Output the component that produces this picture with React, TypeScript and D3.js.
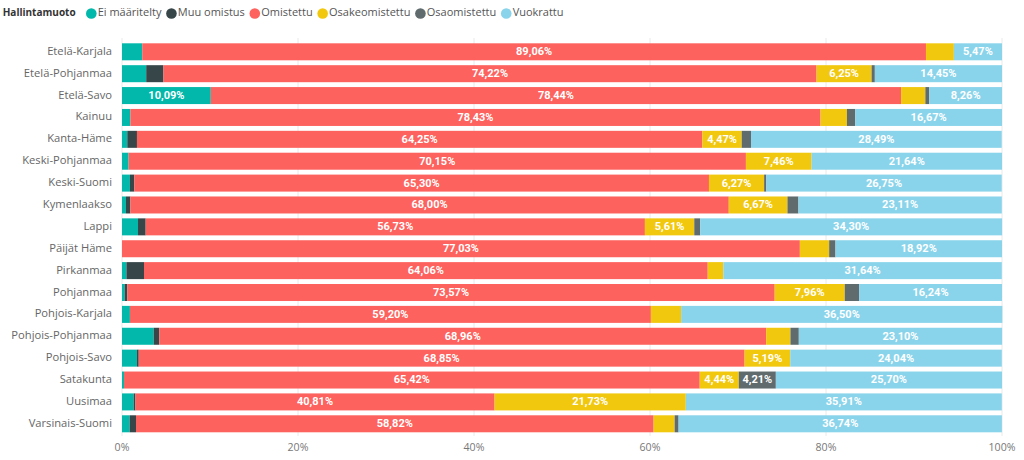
import React from "react";
import * as d3 from "d3";

const categories = [
  "Etelä-Karjala", "Etelä-Pohjanmaa", "Etelä-Savo", "Kainuu", "Kanta-Häme",
  "Keski-Pohjanmaa", "Keski-Suomi", "Kymenlaakso", "Lappi", "Päijät Häme",
  "Pirkanmaa", "Pohjanmaa", "Pohjois-Karjala", "Pohjois-Pohjanmaa",
  "Pohjois-Savo", "Satakunta", "Uusimaa", "Varsinais-Suomi",
];

const seriesNames = ["Ei määritelty", "Muu omistus", "Omistettu", "Osakeomistettu", "Osaomistettu", "Vuokrattu"];
const seriesColors = ["#01B8AA", "#374649", "#FD625E", "#F2C80F", "#5F6B6D", "#8AD4EB"];

const eiMaaritelty = [2.3, 2.75, 10.09, 0.95, 0.6, 0.75, 0.9, 0.45, 1.82, 0, 0.5, 0.3, 0.9, 3.6, 1.7, 0.23, 1.33, 0.87];
const muuOmistus = [0, 1.96, 0, 0, 1.1, 0, 0.5, 0.5, 0.87, 0, 2.0, 0.3, 0, 0.64, 0.2, 0, 0.2, 0.72];
const omistettu = [89.06, 74.22, 78.44, 78.43, 64.25, 70.15, 65.30, 68.00, 56.73, 77.03, 64.06, 73.57, 59.20, 68.96, 68.85, 65.42, 40.81, 58.82];
const osakeomistettu = [3.17, 6.25, 2.76, 3.0, 4.47, 7.46, 6.27, 6.67, 5.61, 3.33, 1.78, 7.96, 3.44, 2.76, 5.19, 4.44, 21.73, 2.39];
const osaomistettu = [0, 0.37, 0.45, 0.95, 1.06, 0, 0.25, 1.25, 0.68, 0.72, 0, 1.63, 0, 0.95, 0, 4.21, 0, 0.45];
const vuokrattu = [5.47, 14.45, 8.26, 16.67, 28.49, 21.64, 26.75, 23.11, 34.30, 18.92, 31.64, 16.24, 36.50, 23.10, 24.04, 25.70, 35.91, 36.74];

const seriesValues = [eiMaaritelty, muuOmistus, omistettu, osakeomistettu, osaomistettu, vuokrattu];
const xTicks = [0, 20, 40, 60, 80, 100];

const W = 1024;
const H = 460;
const FAMILY = "'Open Sans'";
const CAT_SIZE = 11.2;
const LEG_SIZE = 11;
const TITLE_SIZE = 10;
const AXIS_SIZE = 10.6;

let ctx: CanvasRenderingContext2D | null = null;
function measure(text: string, font: string): number {
  if (!ctx) ctx = document.createElement("canvas").getContext("2d");
  if (!ctx) return text.length * 6;
  ctx.font = font;
  return ctx.measureText(text).width;
}

const fmt = (v: number) => v.toFixed(2).replace(".", ",") + "%";

export default function App() {
  const x = d3.scaleLinear().domain([0, 100]).range([122, 1002]);
  const y = d3.scaleBand<string>().domain(categories).range([40.9, 434.7]).paddingInner(0.223).paddingOuter(0.11);

  const labelFont = "bold 11px Roboto";

  const rows = categories.map((c, i) => {
    const vals = seriesValues.map((s) => s[i]);
    const stack = d3.cumsum(vals);
    return vals.map((v, k) => ({ k, v, x0: stack[k] - v, x1: stack[k] }));
  });

  // legend layout
  let lx = 86;
  const legendItems = seriesNames.map((n, i) => {
    const cx = lx + 5.3;
    const tx = lx + 11.7;
    lx = tx + measure(n, `${LEG_SIZE}px ${FAMILY}`) + 4.7;
    return { n, i, cx, tx };
  });

  return (
    <svg width={W} height={H} style={{ position: "absolute", left: 0, top: 0, background: "#fff" }}>
      <rect width={W} height={H} fill="#fff" />
      <text x={2.7} y={13.5} dominantBaseline="middle" fontFamily={FAMILY} fontWeight="bold" fontSize={TITLE_SIZE} fill="#333">Hallintamuoto</text>
      {legendItems.map((it) => (
        <g key={it.n}>
          <circle cx={it.cx} cy={13.5} r={5.3} fill={seriesColors[it.i]} />
          <text x={it.tx} y={13.5} dominantBaseline="middle" fontFamily={FAMILY} fontSize={LEG_SIZE} fill="#555">{it.n}</text>
        </g>
      ))}
      {xTicks.map((t) => (
        <g key={t}>
          <line x1={x(t)} x2={x(t)} y1={38} y2={436} stroke="#eaeaea" strokeWidth={1} />
          <text x={x(t)} y={448} textAnchor="middle" dominantBaseline="middle" fontFamily={FAMILY} fontSize={AXIS_SIZE} fill="#777">{t + "%"}</text>
        </g>
      ))}
      {categories.map((c, i) => {
        const y0 = y(c)!;
        const bh = y.bandwidth();
        return (
          <g key={c}>
            <text x={112} y={y0 + bh / 2} textAnchor="end" dominantBaseline="middle" fontFamily={FAMILY} fontSize={CAT_SIZE} fill="#666">{c}</text>
            {rows[i].map((seg) =>
              seg.v > 0 ? (
                <rect key={seg.k} x={x(seg.x0)} y={y0} width={x(seg.x1) - x(seg.x0)} height={bh} fill={seriesColors[seg.k]} />
              ) : null
            )}
            {rows[i].map((seg) => {
              const w = x(seg.x1) - x(seg.x0);
              const label = fmt(seg.v);
              if (seg.v <= 0 || w < measure(label, labelFont) + 3) return null;
              return (
                <text key={"l" + seg.k} x={(x(seg.x0) + x(seg.x1)) / 2} y={y0 + bh / 2 + 0.5} textAnchor="middle" dominantBaseline="middle" fontFamily="Roboto" fontWeight="bold" fontSize={11} fill="#fff">{label}</text>
              );
            })}
          </g>
        );
      })}
    </svg>
  );
}
